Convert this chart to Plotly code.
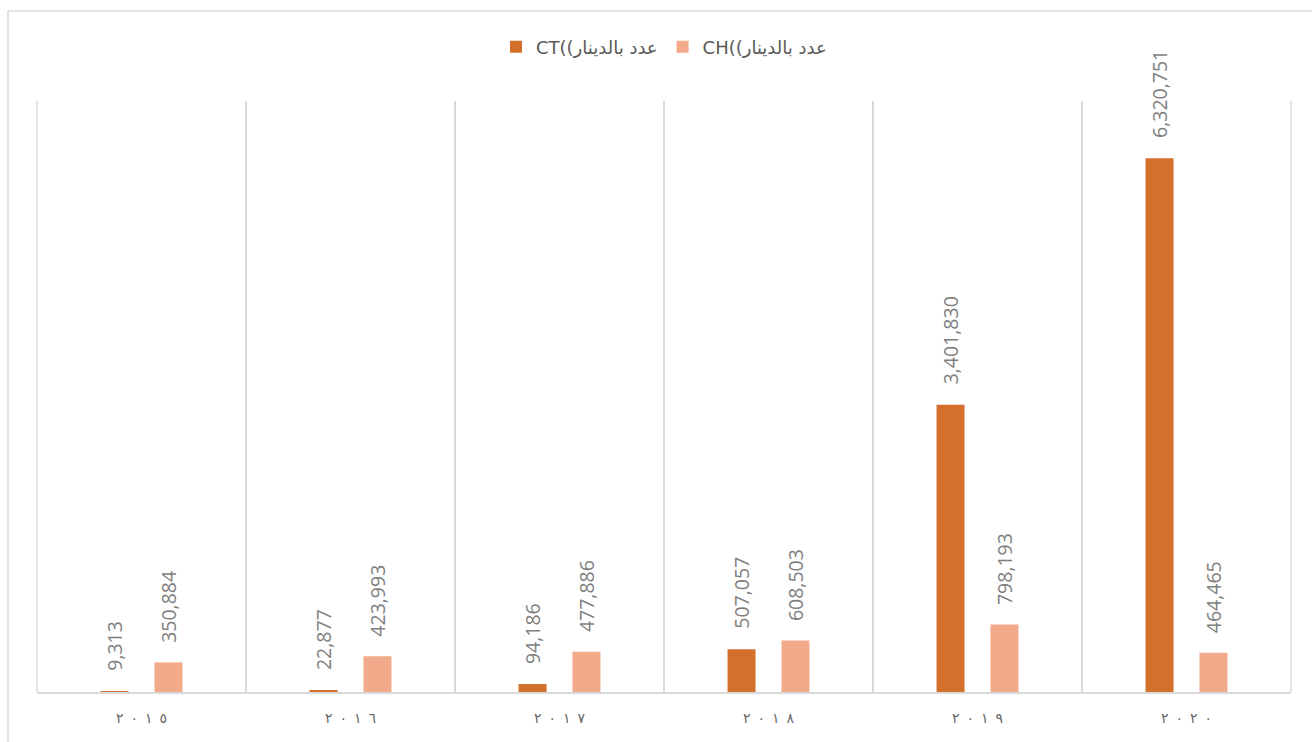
import plotly.graph_objects as go

# Yearly values in dinars
years = ["2015", "2016", "2017", "2018", "2019", "2020"]
year_labels = ["٢\u200e\u2002\u200e٠\u200e\u2002\u200e١\u200e\u2002\u200e٥",
               "٢\u200e\u2002\u200e٠\u200e\u2002\u200e١\u200e\u2002\u200e٦",
               "٢\u200e\u2002\u200e٠\u200e\u2002\u200e١\u200e\u2002\u200e٧",
               "٢\u200e\u2002\u200e٠\u200e\u2002\u200e١\u200e\u2002\u200e٨",
               "٢\u200e\u2002\u200e٠\u200e\u2002\u200e١\u200e\u2002\u200e٩",
               "٢\u200e\u2002\u200e٠\u200e\u2002\u200e٢\u200e\u2002\u200e٠"]
ct_values = [9313, 22877, 94186, 507057, 3401830, 6320751]
ch_values = [350884, 423993, 477886, 608503, 798193, 464465]
series_names = ["CT((عدد بالدينار", "CH((عدد بالدينار"]

ct_color = "#D3702C"
ch_color = "#F2AA8B"
label_color = "#7F7F7F"
grid_color = "#D9D9D9"

bar_width = 0.134
offsets = [-0.196, 0.062]

W, H = 1312, 742
ml, mr, mt, mb = 37, 21, 101, 50

fig = go.Figure()
for name, vals, color, off in [(series_names[0], ct_values, ct_color, offsets[0]),
                               (series_names[1], ch_values, ch_color, offsets[1])]:
    fig.add_trace(go.Bar(
        x=years, y=vals, name=name, marker=dict(color=color, line=dict(width=0)),
        width=bar_width, offset=off, hoverinfo="x+y",
    ))

# value labels above each bar, rotated
annotations = []
for vals, off in [(ct_values, offsets[0]), (ch_values, offsets[1])]:
    for i, v in enumerate(vals):
        annotations.append(dict(
            x=i + off + bar_width / 2, y=v, xref="x", yref="y",
            text=f"{v:,}", textangle=-90, showarrow=False,
            xanchor="center", yanchor="bottom", yshift=18,
            font=dict(family="Open Sans", size=19.5, color=label_color),
        ))

plot_w = W - ml - mr
plot_h = H - mt - mb

# frame of the chart area plus the two outer category separators
shapes = [dict(type="rect", xref="paper", yref="paper",
               x0=(8 - ml) / plot_w, x1=(W + 20 - ml) / plot_w,
               y0=-(H + 20 - mt - plot_h) / plot_h, y1=1 + (mt - 11) / plot_h,
               line=dict(color=grid_color, width=1.5), fillcolor="rgba(0,0,0,0)", layer="below")]
for xp in (0, 1):
    shapes.append(dict(type="line", xref="paper", yref="paper", x0=xp, x1=xp, y0=0, y1=1,
                       line=dict(color=grid_color, width=1.5), layer="below"))

fig.update_layout(
    width=W, height=H,
    margin=dict(l=ml, r=mr, t=mt, b=mb, pad=0),
    paper_bgcolor="white", plot_bgcolor="white",
    showlegend=True,
    legend=dict(orientation="h", x=0.5, xanchor="center", y=1 + 54 / plot_h, yanchor="middle",
                font=dict(family="DejaVu Sans", size=18, color="#595959"),
                traceorder="normal", itemwidth=30),
    xaxis=dict(type="category", tickmode="array", tickvals=years, ticktext=year_labels,
               tickson="boundaries", showgrid=True, gridcolor=grid_color, gridwidth=1.5,
               showline=True, linecolor=grid_color, linewidth=1.5, ticks="",
               ticklabelstandoff=12,
               tickfont=dict(family="DejaVu Sans", size=14, color="#666666"),
               range=[-0.5, 5.5], fixedrange=True),
    yaxis=dict(range=[0, 7000000], showgrid=False, zeroline=False, showticklabels=False,
               showline=False, ticks="", fixedrange=True),
    annotations=annotations,
    shapes=shapes,
)

fig.write_html("out.html")
